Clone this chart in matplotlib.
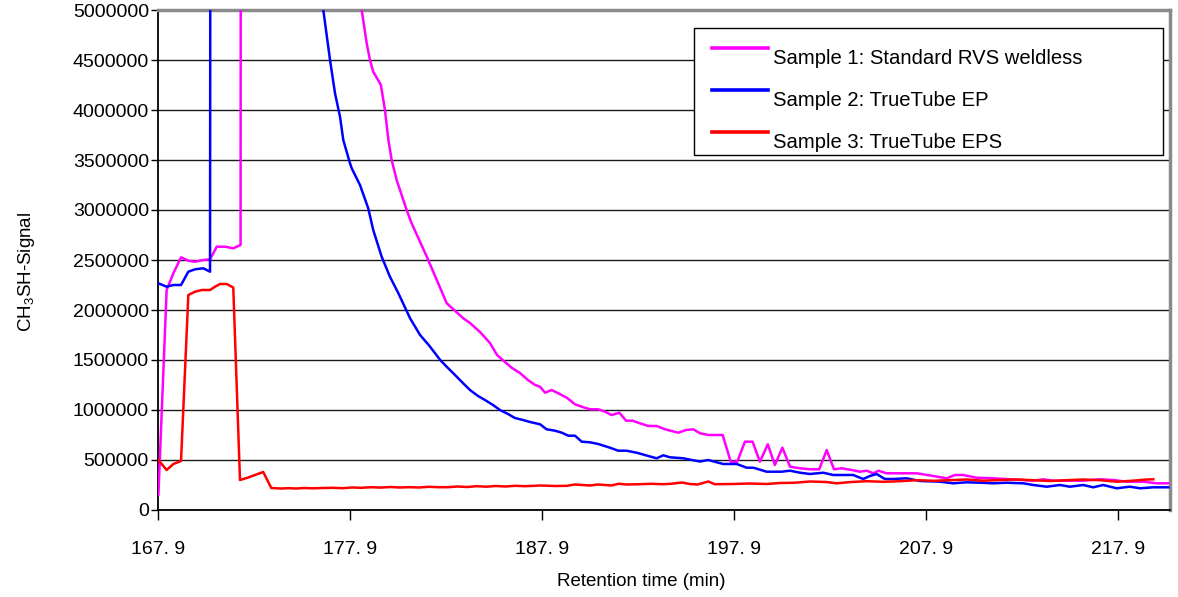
import matplotlib
matplotlib.use('Agg')
import matplotlib.pyplot as plt
from matplotlib.lines import Line2D
from matplotlib.patches import Rectangle

plt.rcParams['font.family'] = ['Liberation Sans', 'DejaVu Sans']
plt.rcParams['mathtext.fontset'] = 'custom'
plt.rcParams['mathtext.rm'] = 'Liberation Sans'
plt.rcParams['mathtext.it'] = 'Liberation Sans:italic'

# ---------------- data ----------------
series_names = ['Sample 1: Standard RVS weldless',
                'Sample 2: TrueTube EP',
                'Sample 3: TrueTube EPS']
series_colors = ['#FF00FF', '#0000FF', '#FF0000']

s1_time = [167.92, 168.35, 168.70, 169.10, 169.48, 169.83, 170.26, 170.61, 170.96, 171.39,
           171.82, 172.20, 172.30, 178.20, 178.51, 178.77, 178.94, 179.11, 179.51, 179.72,
           179.90, 180.07, 180.33, 180.85, 181.11, 181.90, 182.42, 182.94, 183.80, 184.15,
           184.67, 185.19, 185.56, 185.97, 186.34, 186.75, 187.17, 187.54, 187.80, 188.06,
           188.40, 188.75, 189.19, 189.62, 189.97, 190.40, 190.83, 191.18, 191.53, 191.93,
           192.28, 192.62, 193.00, 193.44, 193.87, 194.31, 194.65, 195.00, 195.40, 195.78,
           196.13, 196.56, 197.31, 197.73, 198.07, 198.47, 198.87, 199.25, 199.66, 200.03,
           200.42, 200.82, 201.34, 201.86, 202.34, 202.73, 203.11, 203.51, 204.03, 204.46,
           204.81, 205.16, 205.42, 205.85, 206.55, 207.42, 208.28, 208.98, 209.41, 209.84,
           210.54, 211.40, 212.28, 213.49, 214.01, 214.53, 215.23, 216.09, 216.96, 217.66,
           218.35, 219.22, 219.91, 220.52]
s1_signal = [150000, 2200000, 2367000, 2527000, 2493000, 2483000, 2500000, 2507000, 2633000, 2633000,
             2617000, 2650000, 30000000, 5400000, 5000000, 4667000, 4500000, 4383000, 4250000, 4000000,
             3700000, 3500000, 3300000, 3000000, 2867000, 2533000, 2300000, 2067000, 1917000, 1870000,
             1780000, 1670000, 1550000, 1480000, 1420000, 1370000, 1300000, 1250000, 1233000, 1173000,
             1200000, 1167000, 1123000, 1057000, 1033000, 1007000, 1007000, 983000, 950000, 973000,
             893000, 893000, 867000, 840000, 840000, 807000, 790000, 773000, 800000, 807000,
             767000, 750000, 750000, 483000, 483000, 683000, 683000, 483000, 657000, 450000,
             623000, 433000, 417000, 407000, 407000, 600000, 407000, 417000, 400000, 383000,
             393000, 367000, 393000, 367000, 367000, 367000, 340000, 317000, 350000, 350000,
             323000, 317000, 307000, 293000, 307000, 293000, 293000, 293000, 307000, 300000,
             283000, 283000, 267000, 267000]

s2_time = [167.92, 168.35, 168.70, 169.10, 169.48, 169.83, 170.26, 170.61, 170.62, 170.68,
           176.10, 176.51, 176.86, 177.12, 177.38, 177.55, 177.90, 177.99, 178.42, 178.85,
           179.11, 179.55, 179.98, 180.42, 181.03, 181.55, 182.00, 182.60, 182.95, 183.37,
           183.78, 184.15, 184.57, 184.93, 185.35, 185.71, 186.13, 186.49, 186.91, 187.28,
           187.80, 188.14, 188.58, 188.93, 189.27, 189.62, 189.97, 190.40, 190.83, 191.44,
           191.87, 192.31, 192.83, 193.44, 193.87, 194.22, 194.57, 195.26, 195.70, 196.13,
           196.56, 197.34, 198.04, 198.56, 198.91, 199.60, 200.38, 200.82, 201.34, 201.86,
           202.55, 203.07, 204.11, 204.63, 204.98, 205.33, 205.76, 206.20, 206.89, 207.59,
           208.63, 209.32, 210.02, 210.71, 211.40, 212.10, 212.97, 213.49, 214.19, 214.88,
           215.40, 216.09, 216.61, 217.13, 217.83, 218.52, 219.05, 219.74, 220.52]
s2_signal = [2267000, 2233000, 2250000, 2250000, 2383000, 2407000, 2417000, 2383000, 4560000, 30000000,
             5600000, 5000000, 4500000, 4167000, 3933000, 3700000, 3467000, 3417000, 3250000, 3017000,
             2800000, 2533000, 2333000, 2167000, 1917000, 1750000, 1650000, 1500000, 1430000, 1350000,
             1270000, 1200000, 1140000, 1100000, 1050000, 1000000, 960000, 920000, 900000, 880000,
             857000, 807000, 793000, 773000, 743000, 743000, 683000, 677000, 660000, 623000,
             593000, 593000, 573000, 540000, 517000, 547000, 527000, 517000, 500000, 485000,
             500000, 460000, 460000, 423000, 423000, 383000, 383000, 393000, 373000, 360000,
             373000, 350000, 350000, 310000, 340000, 360000, 310000, 310000, 317000, 290000,
             283000, 267000, 277000, 273000, 267000, 273000, 267000, 250000, 233000, 250000,
             233000, 250000, 227000, 250000, 217000, 233000, 217000, 227000, 227000]

s3_time = [167.92, 168.35, 168.70, 169.10, 169.48, 169.83, 170.18, 170.61, 170.87, 171.13,
           171.48, 171.82, 172.17, 172.60, 172.95, 173.38, 173.80, 174.30, 174.70, 175.10,
           175.50, 176.00, 176.50, 177.00, 177.50, 178.00, 178.50, 179.00, 179.50, 180.00,
           180.50, 181.00, 181.50, 182.00, 182.50, 183.00, 183.50, 184.00, 184.50, 185.00,
           185.50, 186.00, 186.50, 187.00, 187.50, 187.80, 188.60, 189.20, 189.60, 190.00,
           190.40, 190.80, 191.20, 191.50, 191.90, 192.30, 193.00, 193.60, 194.20, 194.60,
           195.20, 195.60, 196.00, 196.56, 196.90, 197.86, 198.70, 199.60, 200.30, 201.00,
           201.86, 202.70, 203.25, 204.00, 204.81, 205.70, 206.55, 207.42, 208.30, 209.10,
           210.02, 210.90, 211.75, 212.60, 213.49, 214.36, 215.20, 216.09, 216.96, 217.83,
           218.60, 219.40, 219.74]
s3_signal = [500000, 400000, 460000, 490000, 2150000, 2183000, 2200000, 2200000, 2233000, 2260000,
             2260000, 2225000, 300000, 325000, 350000, 380000, 220000, 215000, 218000, 215000,
             220000, 217000, 220000, 222000, 218000, 225000, 222000, 228000, 224000, 230000,
             225000, 228000, 225000, 232000, 228000, 228000, 235000, 230000, 238000, 233000,
             240000, 235000, 242000, 238000, 242000, 245000, 240000, 242000, 255000, 250000,
             245000, 255000, 250000, 245000, 262000, 255000, 258000, 262000, 258000, 262000,
             275000, 260000, 255000, 285000, 258000, 260000, 265000, 260000, 270000, 272000,
             285000, 280000, 267000, 280000, 288000, 282000, 288000, 298000, 292000, 298000,
             305000, 293000, 300000, 305000, 298000, 290000, 298000, 305000, 298000, 283000,
             292000, 305000, 307000]

ytick_values = [0, 500000, 1000000, 1500000, 2000000, 2500000,
                3000000, 3500000, 4000000, 4500000, 5000000]
ytick_labels = ['0', '500000', '1000000', '1500000', '2000000', '2500000',
                '3000000', '3500000', '4000000', '4500000', '5000000']
xtick_values = [167.9, 177.9, 187.9, 197.9, 207.9, 217.9]
xtick_labels = ['167. 9', '177. 9', '187. 9', '197. 9', '207. 9', '217. 9']

# ---------------- layout ----------------
W, H = 1178, 597
fig = plt.figure(figsize=(W / 100, H / 100), dpi=100)


def fx(px):
    return px / W


def fy(py):
    return 1 - py / H


ax = fig.add_axes([fx(158), fy(510), fx(1170) - fx(158), fy(10) - fy(510)])

for t, v, c in zip([s1_time, s2_time, s3_time],
                   [s1_signal, s2_signal, s3_signal], series_colors):
    ax.plot(t, v, color=c, lw=1.8, solid_joinstyle='round', zorder=3)

ax.set_xlim(167.9, 220.61)
ax.set_ylim(0, 5000000)
ax.set_yticks(ytick_values)
ax.set_yticklabels(ytick_labels, fontsize=14)
ax.set_xticks(xtick_values)
ax.set_xticklabels(xtick_labels, fontsize=14)
ax.yaxis.grid(True, color='#1a1a1a', lw=1.0)
ax.set_axisbelow(True)
ax.tick_params(axis='y', length=5, width=1, pad=1.5, colors='black')
ax.tick_params(axis='x', length=7, width=1, pad=15, colors='black')

for side in ['left', 'bottom']:
    ax.spines[side].set_color('black')
    ax.spines[side].set_linewidth(1.3)
for side in ['top', 'right']:
    ax.spines[side].set_color('#8a8a8a')
    ax.spines[side].set_linewidth(2.5)

ax.set_ylabel(r'CH$_3$SH-Signal', fontsize=13.5)
ax.yaxis.set_label_coords((37 - 158) / 1012, (510 - 272) / 500)
ax.set_xlabel('Retention time (min)', fontsize=13.5)
ax.xaxis.set_label_coords((641 - 158) / 1012, (510 - 573) / 500)

# ---------------- legend ----------------
fig.add_artist(Rectangle((fx(694), fy(155)), fx(1163) - fx(694), fy(28) - fy(155),
                         transform=fig.transFigure, facecolor='white',
                         edgecolor='black', lw=1.0, zorder=10))
row_text_y = [59, 101, 143]
for name, c, ty in zip(series_names, series_colors, row_text_y):
    fig.add_artist(Line2D([fx(712), fx(768)], [fy(ty - 11), fy(ty - 11)],
                          transform=fig.transFigure, color=c, lw=2.6, zorder=11))
    fig.text(fx(773), fy(ty), name, fontsize=14.6, va='center', ha='left', zorder=12)

fig.savefig('out.png', dpi=100)
